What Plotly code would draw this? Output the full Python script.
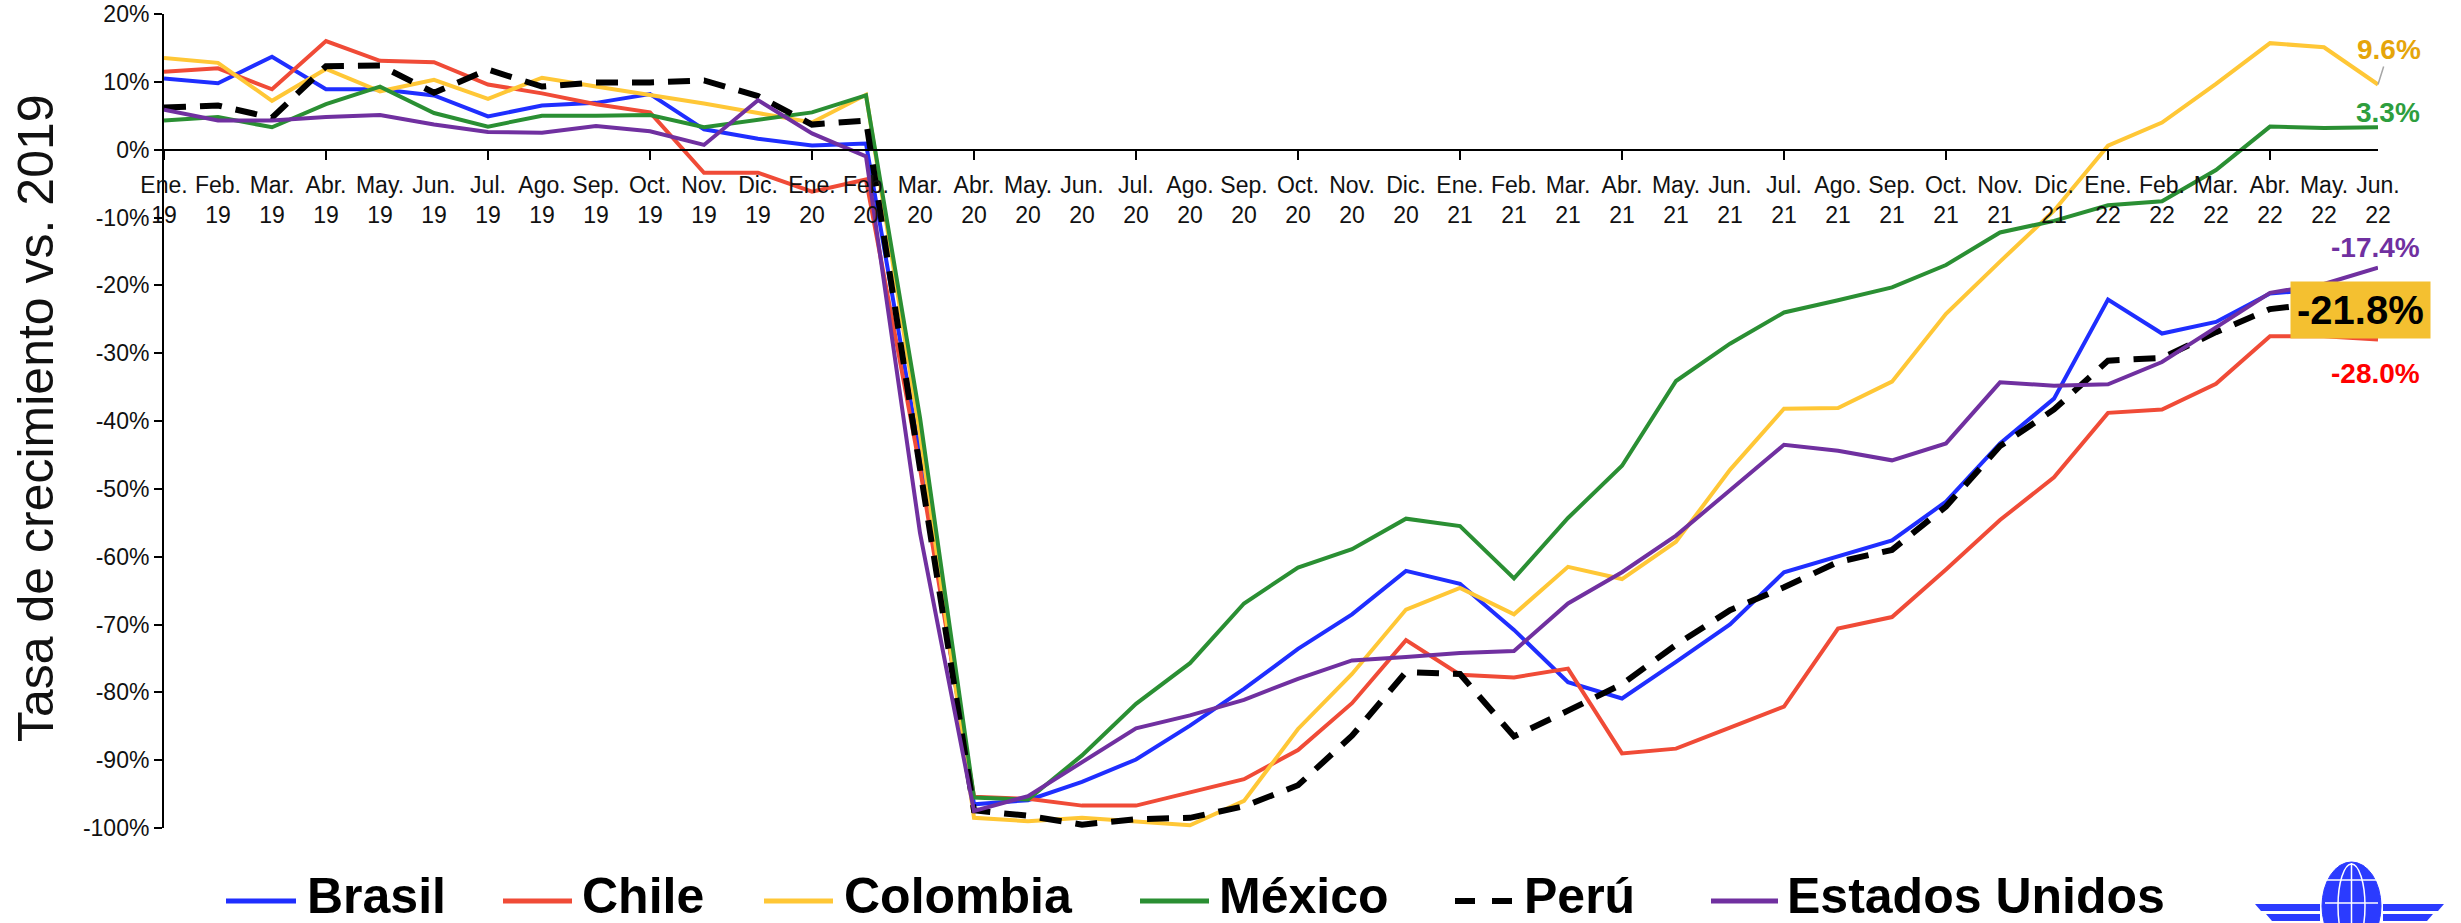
import plotly.graph_objects as go

# ---------------- data ----------------
month_names = ["Ene.", "Feb.", "Mar.", "Abr.", "May.", "Jun.",
               "Jul.", "Ago.", "Sep.", "Oct.", "Nov.", "Dic."]
year_labels = ["19"] * 12 + ["20"] * 12 + ["21"] * 12 + ["22"] * 6
tick_labels = [f"{month_names[i % 12]}<br>{year_labels[i]}" for i in range(42)]

brasil = [10.5, 9.8, 13.7, 8.9, 8.9, 8.0, 4.9, 6.5, 6.9, 8.2, 3.0, 1.6,
          0.6, 0.9, -45.0, -96.5, -95.9, -93.2, -89.9, -84.9, -79.5, -73.6,
          -68.5, -62.1, -64.0, -70.8, -78.5, -80.9, -75.5, -70.0, -62.3, -60.0,
          -57.6, -51.9, -43.3, -36.7, -22.1, -27.1, -25.4, -21.2, -20.6, -19.8]
chile = [11.5, 12.0, 8.9, 16.0, 13.1, 12.9, 9.6, 8.3, 6.7, 5.5, -3.4, -3.4,
         -6.2, -4.4, -47.0, -95.4, -95.7, -96.7, -96.7, -94.8, -92.8, -88.5,
         -81.6, -72.3, -77.4, -77.8, -76.5, -89.0, -88.3, -85.2, -82.1, -70.6,
         -68.9, -61.9, -54.6, -48.3, -38.8, -38.3, -34.5, -27.5, -27.5, -28.0]
colombia = [13.5, 12.8, 7.2, 11.9, 8.6, 10.3, 7.5, 10.6, 9.3, 8.1, 6.8, 5.4,
            4.0, 8.1, -42.0, -98.5, -99.0, -98.5, -99.0, -99.6, -96.0, -85.4,
            -77.3, -67.8, -64.6, -68.5, -61.5, -63.3, -57.8, -47.2, -38.2, -38.1,
            -34.2, -24.2, -16.5, -9.0, 0.6, 4.0, 9.7, 15.7, 15.1, 9.6]
mexico = [4.3, 4.8, 3.3, 6.7, 9.3, 5.4, 3.4, 5.0, 5.0, 5.1, 3.3, 4.4,
          5.5, 8.0, -39.5, -95.5, -95.8, -89.3, -81.7, -75.7, -66.9, -61.6,
          -58.9, -54.4, -55.5, -63.2, -54.3, -46.6, -34.1, -28.6, -24.0, -22.2,
          -20.3, -17.0, -12.2, -10.5, -8.2, -7.6, -3.0, 3.4, 3.2, 3.3]
peru = [6.2, 6.5, 4.7, 12.3, 12.4, 8.4, 11.8, 9.3, 9.9, 9.9, 10.2, 7.9,
        3.7, 4.3, -47.0, -97.4, -98.2, -99.5, -98.7, -98.5, -96.8, -93.7,
        -86.4, -77.0, -77.3, -86.5, -82.7, -78.8, -73.0, -67.9, -64.5, -60.8,
        -59.0, -52.6, -43.7, -38.3, -31.1, -30.7, -26.9, -23.5, -22.6, -21.8]
eeuu = [5.9, 4.3, 4.3, 4.8, 5.1, 3.7, 2.6, 2.5, 3.5, 2.7, 0.7, 7.3,
        2.4, -1.0, -56.5, -97.5, -95.3, -90.3, -85.3, -83.4, -81.1, -78.0,
        -75.3, -74.8, -74.2, -73.9, -66.9, -62.3, -56.9, -50.2, -43.5, -44.4,
        -45.8, -43.3, -34.3, -34.8, -34.6, -31.3, -26.2, -21.1, -19.8, -17.4]

y_tick_vals = list(range(-100, 21, 10))
y_tick_text = [f"{v}%" for v in y_tick_vals]

series = [
    ("Brasil", brasil, "#1F2EFF", "solid", 4),
    ("Chile", chile, "#F04B37", "solid", 4),
    ("Colombia", colombia, "#FFC736", "solid", 4),
    ("México", mexico, "#2A8F33", "solid", 4),
    ("Perú", peru, "#000000", "22px,14px", 6),
    ("Estados Unidos", eeuu, "#7030A0", "solid", 4),
]

# ---------------- layout geometry (page pixels) ----------------
W, H = 2461, 923
PL, PR, PT, PB = 164, 2378, 14, 828      # plot area
ML, MR, MT, MB = PL, W - PR, PT, H - PB
PW, PH = PR - PL, PB - PT


def px(x):
    return (x - PL) / PW


def py(y):
    return (PB - y) / PH


FONT = "Liberation Sans, Arial, Helvetica, sans-serif"

fig = go.Figure()
xs = list(range(len(tick_labels)))
for name, vals, color, dash, width in series:
    fig.add_trace(go.Scatter(
        x=xs, y=vals, mode="lines", name=name, showlegend=False,
        line=dict(color=color, width=width, dash=dash),
        cliponaxis=False,
    ))

# helper trace for the quarterly tick axis
fig.add_trace(go.Scatter(x=[0, 41], y=[0, 0], xaxis="x2", mode="lines",
                         line=dict(width=0), opacity=0, showlegend=False,
                         hoverinfo="skip"))

zero_pos = (0 - (-100)) / 120.0

fig.update_layout(
    width=W, height=H,
    margin=dict(l=ML, r=MR, t=MT, b=MB, autoexpand=False),
    paper_bgcolor="white", plot_bgcolor="white",
    font=dict(family=FONT, color="#111111"),
    xaxis=dict(
        range=[0, 41], anchor="free", position=zero_pos,
        tickmode="array", tickvals=xs, ticktext=tick_labels,
        ticks="outside", ticklen=15, tickcolor="rgba(0,0,0,0)",
        showline=True, linecolor="#000000", linewidth=2,
        showgrid=False, zeroline=False, tickangle=0, automargin=False,
        ticklabeloverflow="allow",
        tickfont=dict(size=23, color="#111111", family=FONT),
    ),
    xaxis2=dict(
        range=[0, 41], overlaying="x", anchor="free", position=zero_pos,
        tickmode="array", tickvals=list(range(0, 42, 3)),
        ticks="outside", ticklen=9, tickwidth=2, tickcolor="#000000",
        showticklabels=False, showline=False, showgrid=False, zeroline=False,
        automargin=False,
    ),
    yaxis=dict(
        range=[-100, 20], tickmode="array", tickvals=y_tick_vals,
        ticktext=y_tick_text, ticks="outside", ticklen=8, tickwidth=2,
        tickcolor="#000000", showline=True, linecolor="#000000", linewidth=2,
        showgrid=False, zeroline=False, automargin=False,
        ticklabeloverflow="allow",
        tickfont=dict(size=23, color="#111111", family=FONT),
    ),
)

annotations = []
shapes = []

# y-axis title
annotations.append(dict(
    text="Tasa de crecimiento vs. 2019", xref="paper", yref="paper",
    x=px(36), y=py(418), textangle=-90, showarrow=False,
    xanchor="center", yanchor="middle",
    font=dict(size=50, color="#111111", family=FONT)))

# end-of-line labels
last = {name: vals[-1] for name, vals, *_ in series}
annotations.append(dict(
    x=41, y=last["Colombia"], xref="x", yref="y",
    text=f"<b>{last['Colombia']:.1f}%</b>",
    showarrow=True, arrowhead=0, arrowwidth=1.5, arrowcolor="#A6A6A6",
    ax=11, ay=-35, standoff=0,
    font=dict(size=28, color="#E5A50A", family=FONT)))
annotations.append(dict(
    x=41, y=last["México"], xref="x", yref="y", text=f"<b>{last['México']:.1f}%</b>",
    showarrow=False, xanchor="right", yanchor="middle", xshift=44, yshift=15,
    font=dict(size=28, color="#2E9E3E", family=FONT)))
annotations.append(dict(
    x=41, y=last["Estados Unidos"], xref="x", yref="y",
    text=f"<b>{last['Estados Unidos']:.1f}%</b>",
    showarrow=False, xanchor="right", yanchor="middle", xshift=44, yshift=20,
    font=dict(size=28, color="#7030A0", family=FONT)))
annotations.append(dict(
    x=41, y=last["Perú"], xref="x", yref="y", text=f"<b>{last['Perú']:.1f}%</b>",
    showarrow=False, xanchor="center", yanchor="middle", xshift=-18, yshift=-12,
    bgcolor="#F4C030", borderpad=6,
    font=dict(size=40, color="#000000", family=FONT)))
annotations.append(dict(
    x=41, y=last["Chile"], xref="x", yref="y", text=f"<b>{last['Chile']:.1f}%</b>",
    showarrow=False, xanchor="right", yanchor="middle", xshift=44, yshift=-34,
    font=dict(size=28, color="#FF0000", family=FONT)))

# manual legend
legend_items = [
    ("Brasil", 226, 296, 305),
    ("Chile", 503, 572, 580),
    ("Colombia", 764, 833, 842),
    ("México", 1140, 1209, 1217),
    ("Perú", 1455, 1515, 1522),
    ("Estados Unidos", 1711, 1778, 1785),
]
style = {name: (color, dash, width) for name, vals, color, dash, width in series}
LEG_Y = 901
for name, x0, x1, xt in legend_items:
    color, dash, width = style[name]
    if name == "Perú":
        for a, b in [(1455, 1475), (1492, 1512)]:
            shapes.append(dict(type="line", xref="paper", yref="paper",
                               x0=px(a), x1=px(b), y0=py(LEG_Y), y1=py(LEG_Y),
                               line=dict(color=color, width=6)))
    else:
        shapes.append(dict(type="line", xref="paper", yref="paper",
                           x0=px(x0), x1=px(x1), y0=py(LEG_Y), y1=py(LEG_Y),
                           line=dict(color=color, width=5)))
    annotations.append(dict(
        text=f"<b>{name}</b>", xref="paper", yref="paper",
        x=px(xt), y=py(LEG_Y - 5), xanchor="left", yanchor="middle",
        showarrow=False, font=dict(size=50, color="#000000", family=FONT)))

# simple logo (globe with wings)
LOGO = "#2B3BFF"
shapes.append(dict(type="circle", xref="paper", yref="paper",
                   x0=px(2322), x1=px(2381), y0=py(862), y1=py(950),
                   fillcolor=LOGO, line=dict(color=LOGO, width=1)))
shapes.append(dict(type="circle", xref="paper", yref="paper",
                   x0=px(2338), x1=px(2365), y0=py(864), y1=py(948),
                   fillcolor="rgba(0,0,0,0)", line=dict(color="white", width=1.5)))
shapes.append(dict(type="line", xref="paper", yref="paper",
                   x0=px(2351.5), x1=px(2351.5), y0=py(863), y1=py(923),
                   line=dict(color="white", width=1.5)))
for yy in (880, 903):
    shapes.append(dict(type="line", xref="paper", yref="paper",
                       x0=px(2325), x1=px(2378), y0=py(yy), y1=py(yy),
                       line=dict(color="white", width=1.5)))


def poly(points):
    return "M " + " L ".join(f"{px(a)},{py(b)}" for a, b in points) + " Z"


for (a0, a1, b0, b1) in [(2255, 2320, 904, 911), (2266, 2320, 914, 921)]:
    shapes.append(dict(type="path", xref="paper", yref="paper",
                       path=poly([(a0, b0), (a1, b0), (a1, b1), (a0 + 6, b1)]),
                       fillcolor=LOGO, line=dict(width=0)))
for (a0, a1, b0, b1) in [(2383, 2444, 904, 911), (2383, 2433, 914, 921)]:
    shapes.append(dict(type="path", xref="paper", yref="paper",
                       path=poly([(a0, b0), (a1, b0), (a1 - 6, b1), (a0, b1)]),
                       fillcolor=LOGO, line=dict(width=0)))

fig.update_layout(annotations=annotations, shapes=shapes)
fig.write_html(
    "out.html",
    config={"displayModeBar": False},
    post_script="document.body.style.margin='0';document.body.style.overflow='hidden';",
)
